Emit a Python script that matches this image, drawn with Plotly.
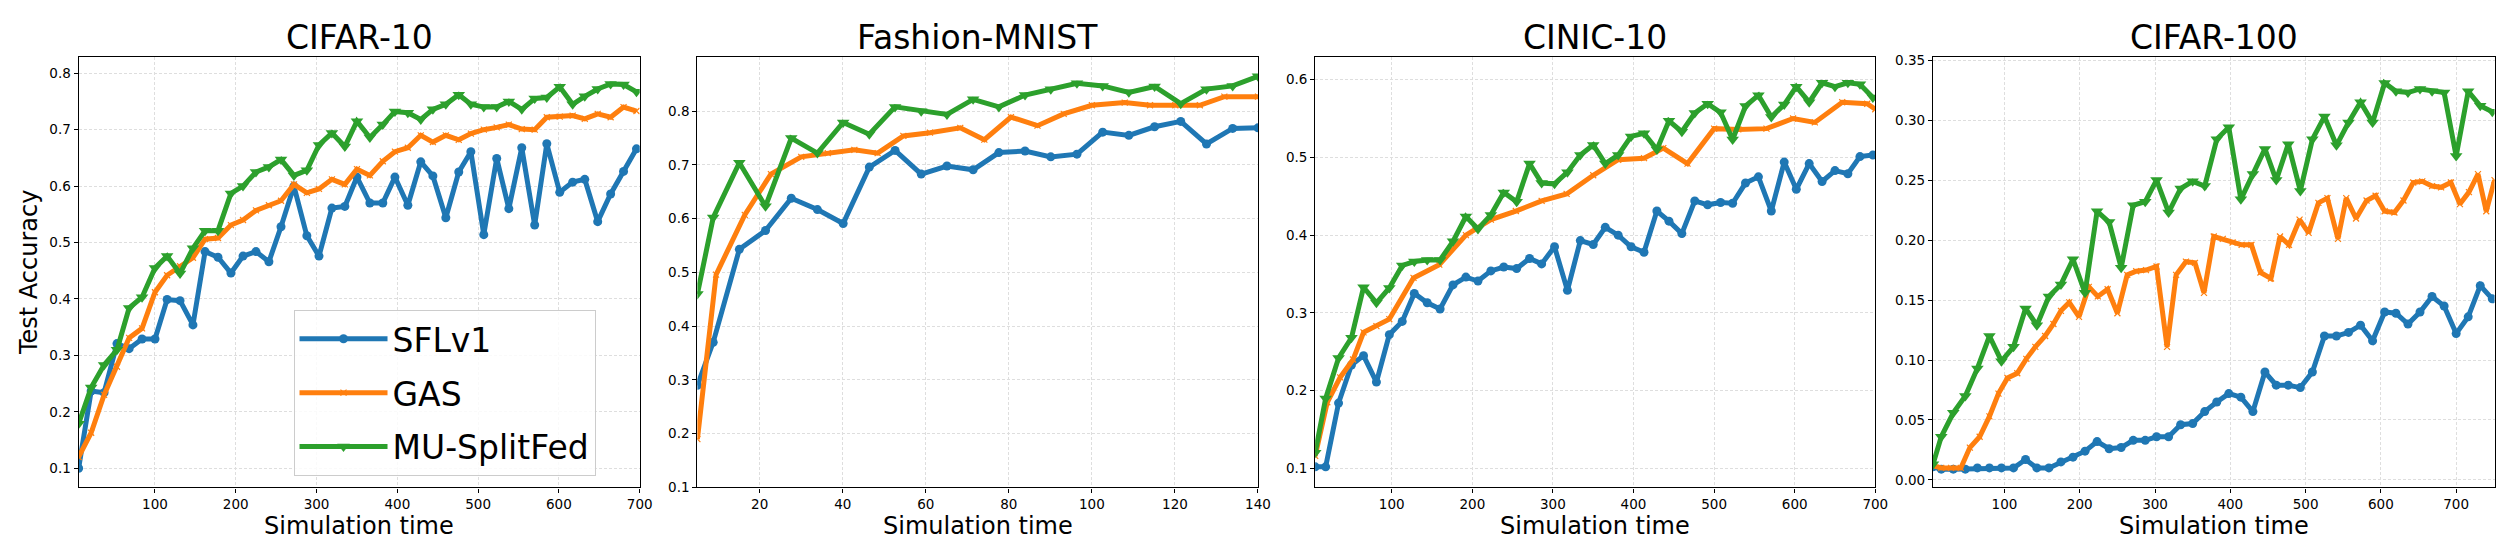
import plotly.graph_objects as go

# ---------------- data ----------------
method_names = ["SFLv1", "GAS", "MU-SplitFed"]
panel_titles = ["CIFAR-10", "Fashion-MNIST", "CINIC-10", "CIFAR-100"]

# CIFAR-10
c10_time = [5.5, 21, 37, 53, 68, 84, 100, 115, 131, 147, 162, 178, 194, 209, 225, 241, 256, 272, 288, 303,
            319, 335, 350, 366, 382, 397, 413, 429, 444, 460, 476, 491, 507, 523, 538, 554, 570, 585, 601, 617,
            632, 648, 664, 680, 696]
c10_sflv1 = [0.100, 0.237, 0.234, 0.321, 0.312, 0.329, 0.329, 0.399, 0.397, 0.354, 0.484, 0.474, 0.446, 0.476,
             0.484, 0.466, 0.528, 0.600, 0.512, 0.476, 0.561, 0.564, 0.616, 0.570, 0.570, 0.616, 0.566, 0.643,
             0.618, 0.544, 0.625, 0.661, 0.514, 0.649, 0.560, 0.668, 0.531, 0.675, 0.589, 0.607, 0.612, 0.537,
             0.586, 0.626, 0.666]
c10_gas = [0.120, 0.163, 0.230, 0.280, 0.331, 0.348, 0.412, 0.442, 0.458, 0.473, 0.506, 0.508, 0.531, 0.540,
           0.557, 0.566, 0.574, 0.603, 0.588, 0.595, 0.612, 0.603, 0.630, 0.619, 0.644, 0.661, 0.668, 0.690,
           0.678, 0.690, 0.682, 0.693, 0.700, 0.704, 0.709, 0.701, 0.700, 0.722, 0.723, 0.725, 0.719, 0.728,
           0.722, 0.740, 0.733]
c10_mu = [0.179, 0.243, 0.283, 0.310, 0.384, 0.403, 0.455, 0.476, 0.445, 0.490, 0.521, 0.521, 0.587, 0.600,
          0.625, 0.634, 0.647, 0.619, 0.628, 0.673, 0.694, 0.670, 0.715, 0.686, 0.709, 0.732, 0.730, 0.718,
          0.736, 0.745, 0.762, 0.745, 0.740, 0.740, 0.750, 0.736, 0.755, 0.757, 0.776, 0.745, 0.759, 0.772,
          0.781, 0.780, 0.767]

# Fashion-MNIST
fm_time = [5, 8.8, 15.1, 21.4, 27.6, 33.9, 40.1, 46.4, 52.6, 58.9, 65.1, 71.4, 77.6, 83.9, 90.1, 96.4,
           102.6, 108.9, 115.1, 121.4, 127.6, 133.9, 140]
fm_sflv1 = [0.29, 0.37, 0.543, 0.578, 0.638, 0.617, 0.591, 0.696, 0.727, 0.683, 0.698, 0.691, 0.723, 0.726,
            0.715, 0.720, 0.761, 0.755, 0.771, 0.781, 0.739, 0.768, 0.769]
fm_gas_time = [5, 9.5, 16.4, 22.7, 30, 36.4, 42.8, 48.4, 54.6, 61, 68.3, 74.1, 80.5, 86.9, 93.2, 100,
               107.9, 114, 120.1, 126, 131.9, 140]
fm_gas = [0.19, 0.496, 0.607, 0.683, 0.715, 0.722, 0.728, 0.722, 0.754, 0.760, 0.769, 0.747, 0.789, 0.773,
          0.795, 0.811, 0.816, 0.811, 0.811, 0.811, 0.827, 0.827]
fm_mu = [0.46, 0.602, 0.704, 0.623, 0.750, 0.722, 0.779, 0.757, 0.808, 0.800, 0.794, 0.822, 0.808, 0.830,
         0.841, 0.852, 0.847, 0.835, 0.846, 0.814, 0.841, 0.847, 0.865]

# CINIC-10
cn_time = [5, 18, 34, 50, 65, 81, 97, 113, 128, 144, 160, 176, 192, 207, 223, 239, 255, 271, 286, 302,
           318, 334, 350, 365, 381, 397, 413, 429, 444, 460, 476, 492, 508, 523, 539, 555, 571, 587, 602, 618,
           634, 650, 666, 681, 697]
cn_sflv1 = [0.102, 0.102, 0.184, 0.233, 0.245, 0.211, 0.272, 0.289, 0.325, 0.313, 0.305, 0.336, 0.346, 0.341,
            0.354, 0.359, 0.357, 0.370, 0.363, 0.385, 0.329, 0.393, 0.388, 0.410, 0.400, 0.385, 0.378, 0.431,
            0.418, 0.402, 0.444, 0.439, 0.442, 0.441, 0.467, 0.475, 0.431, 0.494, 0.459, 0.492, 0.469, 0.483,
            0.479, 0.501, 0.503]
cn_gas_time = [5, 20, 36, 52, 65, 81, 97, 127, 159, 192, 223, 254, 286, 317, 350, 381, 413, 437, 467, 500,
               530, 565, 598, 625, 659, 690, 700]
cn_gas = [0.116, 0.185, 0.217, 0.240, 0.275, 0.283, 0.292, 0.345, 0.362, 0.400, 0.420, 0.431, 0.444, 0.453,
          0.477, 0.497, 0.499, 0.512, 0.492, 0.537, 0.536, 0.537, 0.550, 0.545, 0.571, 0.569, 0.562]
cn_mu = [0.120, 0.190, 0.242, 0.268, 0.333, 0.313, 0.332, 0.361, 0.366, 0.368, 0.368, 0.392, 0.424, 0.408,
         0.426, 0.455, 0.443, 0.492, 0.467, 0.466, 0.481, 0.503, 0.516, 0.492, 0.503, 0.527, 0.531, 0.510,
         0.547, 0.533, 0.557, 0.569, 0.558, 0.523, 0.566, 0.580, 0.552, 0.568, 0.591, 0.571, 0.596, 0.591,
         0.596, 0.594, 0.577]

# CIFAR-100
c100_time = [5, 16, 32, 48, 64, 80, 96, 112, 128, 143, 159, 175, 191, 207, 223, 239, 255, 271, 287, 302,
             318, 334, 350, 366, 382, 398, 414, 430, 446, 461, 477, 493, 509, 525, 541, 557, 573, 589, 605, 620,
             636, 652, 668, 684, 700, 716, 732, 748]
c100_sflv1 = [0.011, 0.009, 0.009, 0.009, 0.010, 0.010, 0.010, 0.010, 0.017, 0.010, 0.010, 0.015, 0.019, 0.024,
              0.032, 0.026, 0.027, 0.033, 0.033, 0.036, 0.036, 0.046, 0.047, 0.057, 0.065, 0.072, 0.069, 0.057,
              0.090, 0.079, 0.079, 0.077, 0.090, 0.120, 0.120, 0.123, 0.129, 0.116, 0.140, 0.139, 0.130, 0.140,
              0.153, 0.145, 0.122, 0.136, 0.162, 0.151]
c100_gas_time = [5, 16, 29, 42, 54, 67, 80, 92, 104, 117, 129, 141, 154, 165, 175, 186, 199, 212, 224, 237,
                 250, 263, 275, 288, 302, 316, 328, 341, 353, 365, 378, 390, 403, 415, 428, 440, 454, 466, 478, 492,
                 504, 517, 529, 543, 554, 567, 581, 593, 605, 618, 630, 643, 655, 668, 680, 693, 705, 717, 729, 740,
                 751]
c100_gas = [0.012, 0.010, 0.010, 0.010, 0.027, 0.036, 0.053, 0.072, 0.085, 0.089, 0.101, 0.111, 0.120, 0.130,
            0.141, 0.148, 0.136, 0.161, 0.153, 0.159, 0.139, 0.171, 0.174, 0.175, 0.178, 0.111, 0.171, 0.182,
            0.181, 0.156, 0.203, 0.201, 0.198, 0.196, 0.196, 0.173, 0.168, 0.203, 0.196, 0.217, 0.206, 0.231,
            0.235, 0.201, 0.235, 0.218, 0.233, 0.237, 0.224, 0.223, 0.233, 0.248, 0.249, 0.245, 0.244, 0.248,
            0.230, 0.240, 0.255, 0.224, 0.250]
c100_mu = [0.013, 0.036, 0.056, 0.070, 0.093, 0.120, 0.099, 0.111, 0.143, 0.129, 0.153, 0.163, 0.184, 0.156,
           0.224, 0.215, 0.177, 0.229, 0.232, 0.250, 0.223, 0.243, 0.249, 0.245, 0.284, 0.294, 0.234, 0.255,
           0.276, 0.250, 0.280, 0.241, 0.284, 0.303, 0.279, 0.298, 0.315, 0.298, 0.331, 0.324, 0.323, 0.326,
           0.324, 0.323, 0.270, 0.324, 0.312, 0.307]

# axis settings per panel
x_ranges = [[5.5, 700], [5, 140], [5, 700], [5, 751]]
y_ranges = [[0.066, 0.828], [0.1, 0.9], [0.0754, 0.6286], [-0.0063, 0.3523]]
x_ticks = [[100, 200, 300, 400, 500, 600, 700], [20, 40, 60, 80, 100, 120, 140],
           [100, 200, 300, 400, 500, 600, 700], [100, 200, 300, 400, 500, 600, 700]]
y_ticks = [[0.1, 0.2, 0.3, 0.4, 0.5, 0.6, 0.7, 0.8], [0.1, 0.2, 0.3, 0.4, 0.5, 0.6, 0.7, 0.8],
           [0.1, 0.2, 0.3, 0.4, 0.5, 0.6], [0.0, 0.05, 0.10, 0.15, 0.20, 0.25, 0.30, 0.35]]
y_formats = [".1f", ".1f", ".1f", ".2f"]

# ---------------- figure ----------------
W, H = 2508, 549
FONT = "DejaVu Sans"
colors = ["#1f77b4", "#ff7f0e", "#2ca02c"]

panels = [
    [(c10_time, c10_sflv1), (c10_time, c10_gas), (c10_time, c10_mu)],
    [(fm_time, fm_sflv1), (fm_gas_time, fm_gas), (fm_time, fm_mu)],
    [(cn_time, cn_sflv1), (cn_gas_time, cn_gas), (cn_time, cn_mu)],
    [(c100_time, c100_sflv1), (c100_gas_time, c100_gas), (c100_time, c100_mu)],
]

markers = [
    dict(symbol="circle", size=9, color=colors[0], line=dict(width=0)),
    dict(symbol="x-thin-open", size=6, color=colors[1], line=dict(width=1.2, color="#ffa050")),
    dict(symbol="triangle-down", size=11, color=colors[2], line=dict(width=0)),
]

# panel pixel boxes (left, right) and vertical extent
px_boxes = [(71, 635), (693, 1256.5), (1314, 1877), (1935, 2499.5)]
top_px, bot_px = 45.5, 486

fig = go.Figure()
layout = dict(
    width=W, height=H,
    margin=dict(l=0, r=0, t=0, b=0),
    paper_bgcolor="white", plot_bgcolor="white",
    font=dict(family=FONT, color="black"),
    showlegend=True,
)

annotations = []
for p in range(4):
    ax = "" if p == 0 else str(p + 1)
    for m in range(3):
        xs, ys = panels[p][m]
        fig.add_trace(go.Scatter(
            x=xs, y=ys, mode="lines+markers", name=method_names[m],
            line=dict(color=colors[m], width=5),
            marker=markers[m],
            xaxis="x" + ax, yaxis="y" + ax,
            showlegend=(p == 0), legendgroup=method_names[m],
        ))
    l, r = px_boxes[p]
    common = dict(
        showline=True, linecolor="black", linewidth=1.2, mirror=True,
        ticks="outside", ticklen=4, tickcolor="black", tickwidth=1,
        showgrid=True, gridcolor="#dedede", gridwidth=1, griddash="3px,2px",
        zeroline=False, tickfont=dict(family=FONT, size=13.5, color="black"),
    )
    layout["xaxis" + ax] = dict(
        domain=[l / W, r / W], range=x_ranges[p], tickvals=x_ticks[p],
        anchor="y" + ax, **common)
    layout["yaxis" + ax] = dict(
        domain=[1 - bot_px / H, 1 - top_px / H], range=y_ranges[p], tickvals=y_ticks[p],
        tickformat=y_formats[p], anchor="x" + ax, **common)
    cx = (l + r) / 2 / W
    annotations.append(dict(text=panel_titles[p], x=cx, y=1 - 25.5 / H, xref="paper", yref="paper",
                            xanchor="center", yanchor="middle", showarrow=False,
                            font=dict(family=FONT, size=33, color="black")))
    annotations.append(dict(text="Simulation time", x=cx, y=1 - 525 / H, xref="paper", yref="paper",
                            xanchor="center", yanchor="middle", showarrow=False,
                            font=dict(family=FONT, size=24, color="black")))

annotations.append(dict(text="Test Accuracy", x=20.5 / W, y=1 - 266 / H, xref="paper", yref="paper",
                        xanchor="center", yanchor="middle", showarrow=False, textangle=-90,
                        font=dict(family=FONT, size=24, color="black")))

layout["annotations"] = annotations
layout["legend"] = dict(
    x=287 / W, y=1 - 304 / H, xanchor="left", yanchor="top",
    bgcolor="rgba(255,255,255,0.85)", bordercolor="#cccccc", borderwidth=1,
    font=dict(family=FONT, size=33, color="black"),
    tracegroupgap=8, itemwidth=88,
)
fig.update_layout(**layout)
fig.write_html("out.html")
